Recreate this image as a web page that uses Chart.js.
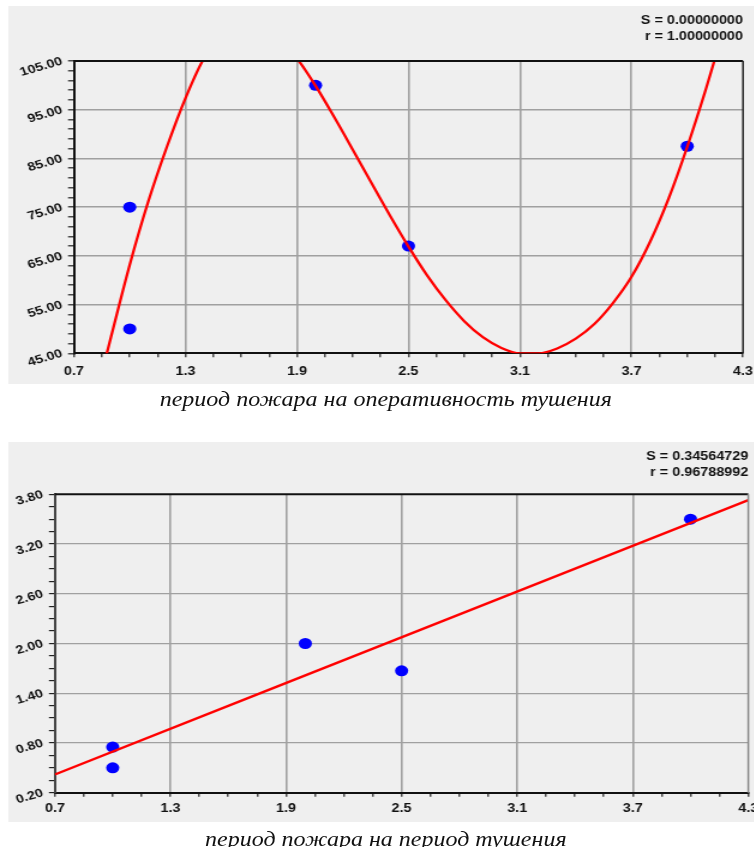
<!DOCTYPE html>
<html>
<head>
<meta charset="utf-8">
<script src="https://cdn.jsdelivr.net/npm/chart.js@4.4.1/dist/chart.umd.min.js"></script>
<style>
  html, body { margin: 0; padding: 0; width: 754px; height: 847px; overflow: hidden; background: #fff; }
  #stage { position: absolute; left: 0; top: 0; width: 629px; height: 847px; transform: scaleX(1.2); transform-origin: 0 0; }
  canvas { position: absolute; background: #efefef; }
  #c1 { left: 7px; top: 6px; }
  #c2 { left: 7px; top: 442px; }
  .cap { position: absolute; left: 0; width: 643px; text-align: center; white-space: nowrap;
         font-family: "Liberation Serif", "Times New Roman", serif; font-style: italic;
         font-size: 20px; line-height: 20px; color: #111; }
</style>
</head>
<body>
<div id="stage">
  <canvas id="c1" width="650" height="378"></canvas>
  <div class="cap" style="top:389px">период пожара на оперативность тушения</div>
  <canvas id="c2" width="650" height="380"></canvas>
  <div class="cap" style="top:829px">период пожара на период тушения</div>
</div>
<script>
// ---- shared x axis: fire period ----
const xMin = 0.7, xMax = 4.3, xMajorStep = 0.6, xMinorStep = 0.15;
const xTickLabels = ['0.7', '1.3', '1.9', '2.5', '3.1', '3.7', '4.3'];

// ---- chart 1: fire period vs. response efficiency ----
const y1Min = 45, y1Max = 105, y1MajorStep = 10, y1MinorStep = 2;
const y1TickLabels = ['45.00', '55.00', '65.00', '75.00', '85.00', '95.00', '105.00'];
const obsX1 = [1.0, 1.0, 2.0, 2.5, 4.0];
const obsY1 = [75, 50, 100, 67, 87.5];
const fitX1 = [0.8, 0.9, 1.0, 1.1, 1.2, 1.3, 1.4, 1.5, 1.6, 1.7, 1.8, 1.9, 2.0, 2.1, 2.2, 2.3, 2.4, 2.5, 2.6, 2.7, 2.8, 2.9, 3.0, 3.1, 3.2, 3.3, 3.4, 3.5, 3.6, 3.7, 3.8, 3.9, 4.0, 4.1, 4.2];
const fitY1 = [33.5, 48.5, 63.2, 76.2, 87.4, 97.4, 105.6, 110.5, 112.5, 112.0, 109.5, 105.5, 99.9, 93.5, 86.8, 80.0, 73.3, 66.9, 61.0, 55.9, 51.6, 48.3, 46.1, 45.0, 45.0, 46.0, 48.0, 51.0, 55.3, 60.7, 67.9, 76.8, 87.4, 99.2, 112.0];
const stats1 = ['S = 0.00000000', 'r = 1.00000000'];

// ---- chart 2: fire period vs. extinguishing period ----
const y2Min = 0.2, y2Max = 3.8, y2MajorStep = 0.6, y2MinorStep = 0.15;
const y2TickLabels = ['0.20', '0.80', '1.40', '2.00', '2.60', '3.20', '3.80'];
const obsX2 = [1.0, 1.0, 2.0, 2.5, 4.0];
const obsY2 = [0.75, 0.5, 2.0, 1.67, 3.5];
const fitX2 = [0.7, 4.3];
const fitY2 = [0.42, 3.73];
const stats2 = ['S = 0.34564729', 'r = 0.96788992'];

const LABEL_FONT = { family: '"Liberation Sans", Arial, sans-serif', size: 12, weight: 'bold' };

function majorIndex(v, base, step) {
  const k = (v - base) / step;
  const r = Math.round(k);
  return Math.abs(k - r) < 1e-6 ? r : -1;
}

function toPoints(xs, ys) { return xs.map((x, i) => ({ x: x, y: ys[i] })); }

// draws the top/right frame of the plot and the fit statistics
const framePlugin = {
  id: 'frame',
  afterDraw(chart, args, opts) {
    const a = chart.chartArea, ctx = chart.ctx;
    ctx.save();
    ctx.strokeStyle = '#111';
    ctx.lineWidth = 2;
    ctx.beginPath();
    ctx.moveTo(a.left, a.top);
    ctx.lineTo(a.right, a.top);
    ctx.stroke();
    ctx.strokeStyle = opts.rightColor;
    ctx.lineWidth = 1.5;
    ctx.beginPath();
    ctx.moveTo(a.right, a.top);
    ctx.lineTo(a.right, a.bottom);
    ctx.stroke();
    ctx.fillStyle = '#111';
    ctx.font = 'bold 12px "Liberation Sans", Arial, sans-serif';
    ctx.textAlign = 'right';
    ctx.textBaseline = 'middle';
    opts.lines.forEach((t, i) => ctx.fillText(t, a.right, opts.firstY + i * 16));
    ctx.restore();
  }
};

function build(canvas, cfg) {
  return new Chart(canvas, {
    type: 'scatter',
    data: {
      datasets: [
        {
          label: 'fit',
          data: toPoints(cfg.fitX, cfg.fitY),
          showLine: true,
          borderColor: '#ff0000',
          borderWidth: 2.3,
          pointRadius: 0,
          pointHoverRadius: 0,
          cubicInterpolationMode: 'monotone',
          clip: 0,
          order: 0
        },
        {
          label: 'obs',
          data: toPoints(cfg.obsX, cfg.obsY),
          pointRadius: 5.5,
          pointBackgroundColor: '#0000ff',
          pointBorderWidth: 0,
          order: 1
        }
      ]
    },
    options: {
      responsive: false,
      animation: false,
      events: [],
      layout: { padding: { top: cfg.padTop, right: cfg.padRight, left: 0, bottom: 0 } },
      plugins: {
        legend: { display: false },
        tooltip: { enabled: false },
        frame: { lines: cfg.stats, firstY: cfg.statsY, rightColor: cfg.rightColor }
      },
      scales: {
        x: {
          type: 'linear',
          min: xMin, max: xMax,
          afterFit: s => { s.height = cfg.xHeight; },
          ticks: {
            stepSize: xMinorStep,
            autoSkip: false,
            minRotation: 0, maxRotation: 0,
            padding: cfg.xPad,
            color: '#111',
            font: LABEL_FONT,
            callback: v => { const i = majorIndex(v, xMin, xMajorStep); return i >= 0 ? xTickLabels[i] : ''; }
          },
          grid: {
            color: c => { const i = majorIndex(c.tick.value, xMin, xMajorStep); return (i > 0 && i < xTickLabels.length - 1) ? '#a0a0a0' : 'rgba(0,0,0,0)'; },
            lineWidth: 1.6,
            tickLength: 4,
            tickColor: '#222',
            tickWidth: 1.2
          },
          border: { color: '#111', width: 2 }
        },
        y: {
          type: 'linear',
          min: cfg.yMin, max: cfg.yMax,
          afterFit: s => { s.width = cfg.yWidth; },
          ticks: {
            stepSize: cfg.yMinorStep,
            autoSkip: false,
            minRotation: 19, maxRotation: 19,
            padding: 5,
            color: '#111',
            font: LABEL_FONT,
            callback: v => { const i = majorIndex(v, cfg.yMin, cfg.yMajorStep); return i >= 0 ? cfg.yLabels[i] : ''; }
          },
          grid: {
            color: c => { const i = majorIndex(c.tick.value, cfg.yMin, cfg.yMajorStep); return (i > 0 && i < cfg.yLabels.length - 1) ? '#a0a0a0' : 'rgba(0,0,0,0)'; },
            lineWidth: cfg.hGridWidth,
            tickLength: 5,
            tickColor: '#222',
            tickWidth: 1.2
          },
          border: { color: cfg.yAxisColor, width: 2 }
        }
      }
    },
    plugins: [framePlugin]
  });
}

build(document.getElementById('c1'), {
  fitX: fitX1, fitY: fitY1, obsX: obsX1, obsY: obsY1, stats: stats1,
  yMin: y1Min, yMax: y1Max, yMajorStep: y1MajorStep, yMinorStep: y1MinorStep, yLabels: y1TickLabels,
  padTop: 55, padRight: 37.8, yWidth: 54.7, xHeight: 30.7, xPad: 7, statsY: 14.7,
  hGridWidth: 1.6, yAxisColor: '#111', rightColor: '#222'
});

build(document.getElementById('c2'), {
  fitX: fitX2, fitY: fitY2, obsX: obsX2, obsY: obsY2, stats: stats2,
  yMin: y2Min, yMax: y2Max, yMajorStep: y2MajorStep, yMinorStep: y2MinorStep, yLabels: y2TickLabels,
  padTop: 52.3, padRight: 33.4, yWidth: 38.8, xHeight: 29.3, xPad: 5, statsY: 14.4,
  hGridWidth: 1.2, yAxisColor: '#444', rightColor: '#888'
});
</script>
</body>
</html>
